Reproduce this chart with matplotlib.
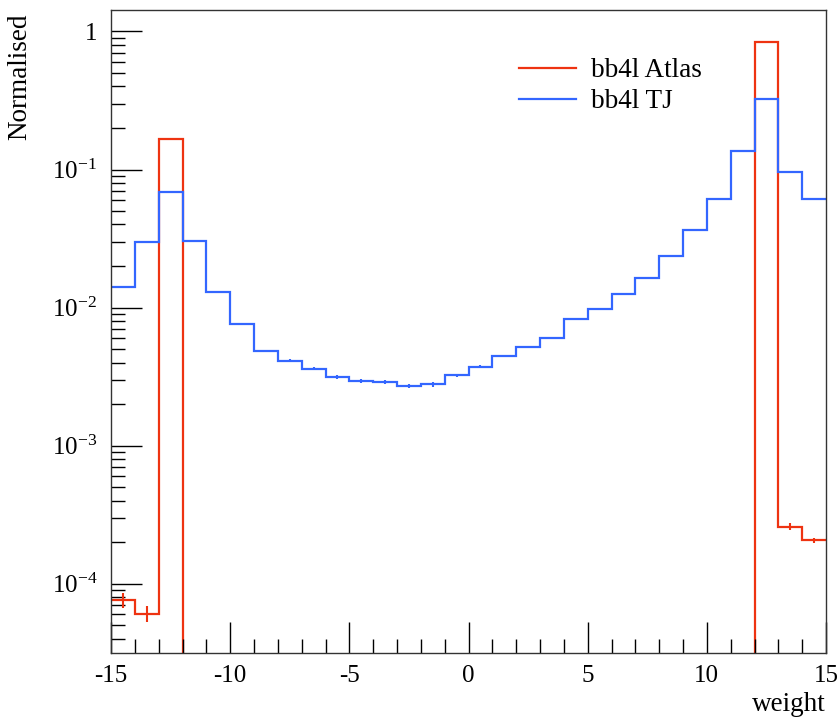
import numpy as np
import matplotlib.pyplot as plt
from matplotlib.ticker import LogLocator, FixedLocator, FuncFormatter, NullFormatter

plt.rcParams['font.family'] = ['Liberation Serif', 'DejaVu Serif']
plt.rcParams['mathtext.fontset'] = 'custom'
plt.rcParams['mathtext.rm'] = 'Liberation Serif'
plt.rcParams['mathtext.it'] = 'Liberation Serif:italic'
plt.rcParams['axes.unicode_minus'] = False

# bin edges: 30 bins of width 1 from -15 to 15
edges = np.arange(-15, 16, 1)

# bb4l Atlas (zero bins between -12 and 12)
atlas = [7.62e-5, 6.07e-5, 0.167,
         0, 0, 0, 0, 0, 0, 0, 0, 0, 0, 0, 0,
         0, 0, 0, 0, 0, 0, 0, 0, 0, 0, 0, 0,
         0.837, 2.59e-4, 2.07e-4]
atlas_err = [0.9e-5, 0.8e-5, 0.002,
             0, 0, 0, 0, 0, 0, 0, 0, 0, 0, 0, 0,
             0, 0, 0, 0, 0, 0, 0, 0, 0, 0, 0, 0,
             0.004, 0.16e-4, 0.09e-4]

# bb4l TJ
tj = [0.01407, 0.0297, 0.069, 0.0305, 0.0130, 0.0076, 0.00487, 0.00412,
      0.00361, 0.00316, 0.00292, 0.00289, 0.00270, 0.00278, 0.00323, 0.00373,
      0.00446, 0.00520, 0.00601, 0.00826, 0.0098, 0.01253, 0.01644, 0.0236,
      0.0364, 0.0610, 0.136, 0.325, 0.0962, 0.0614]
tj_err = [0.0002, 0.0003, 0.0005, 0.0003, 0.0002, 0.00012, 0.0001, 0.0001,
          0.0001, 0.0001, 0.0001, 0.0001, 0.0001, 0.0001, 0.0001, 0.0001,
          0.0001, 0.0001, 0.00012, 0.00015, 0.00015, 0.0002, 0.0002, 0.0003,
          0.0004, 0.0005, 0.001, 0.002, 0.0008, 0.0006]

red = '#EE3311'
blue = '#3366FF'

fig = plt.figure(figsize=(8.38, 7.17), dpi=100)
ax = fig.add_axes([111/838, 1-653/717, (826-111)/838, (653-10)/717])
ax.set_yscale('log')

centers = 0.5*(edges[:-1] + edges[1:])

for vals, errs, col, lab in [(atlas, atlas_err, red, 'bb4l Atlas'), (tj, tj_err, blue, 'bb4l TJ')]:
    vals = np.array(vals, dtype=float)
    errs = np.array(errs, dtype=float)
    ax.stairs(vals, edges, baseline=None, fill=False, color=col, lw=1.6, label=lab)
    m = vals > 0
    ax.errorbar(centers[m], vals[m], yerr=errs[m], fmt='none', ecolor=col, elinewidth=1.5, capsize=0)

ax.set_xlim(-15, 15)
ax.set_ylim(3.15e-5, 1.43)

ax.xaxis.set_major_locator(FixedLocator([-15, -10, -5, 0, 5, 10, 15]))
ax.xaxis.set_minor_locator(FixedLocator(np.arange(-15, 16, 1)))
ax.yaxis.set_major_locator(LogLocator(base=10, numticks=20))
ax.yaxis.set_minor_locator(LogLocator(base=10, subs=np.arange(2, 10), numticks=20))
ax.yaxis.set_minor_formatter(NullFormatter())


def ylab(v, pos):
    e = int(round(np.log10(v)))
    if e == 0:
        return '1'
    return r'$10^{%d}$' % e


ax.yaxis.set_major_formatter(FuncFormatter(ylab))
ax.tick_params(which='both', direction='in', top=False, right=False, width=1.0, color='black', labelsize=18)
ax.tick_params(which='major', length=22, pad=9)
ax.tick_params(which='minor', length=10)
ax.tick_params(axis='y', which='major', pad=10)
for s in ax.spines.values():
    s.set_color('#333333')
    s.set_linewidth(1.0)

fig.text(20/838, 1-13/717, 'Normalised', rotation=90, ha='center', va='top', fontsize=19.5)
fig.text(826/838, 1-711/717, 'weight', ha='right', va='baseline', fontsize=19.5)

leg = ax.legend(loc='upper left', bbox_to_anchor=(519/838, 1-58/717), bbox_transform=fig.transFigure,
                frameon=False, fontsize=19.5, handlelength=2.1, handletextpad=0.55,
                labelspacing=0.23, borderpad=0, borderaxespad=0)
for h in leg.legend_handles:
    h.set_linewidth(1.6)

fig.savefig('out.png', dpi=100)
